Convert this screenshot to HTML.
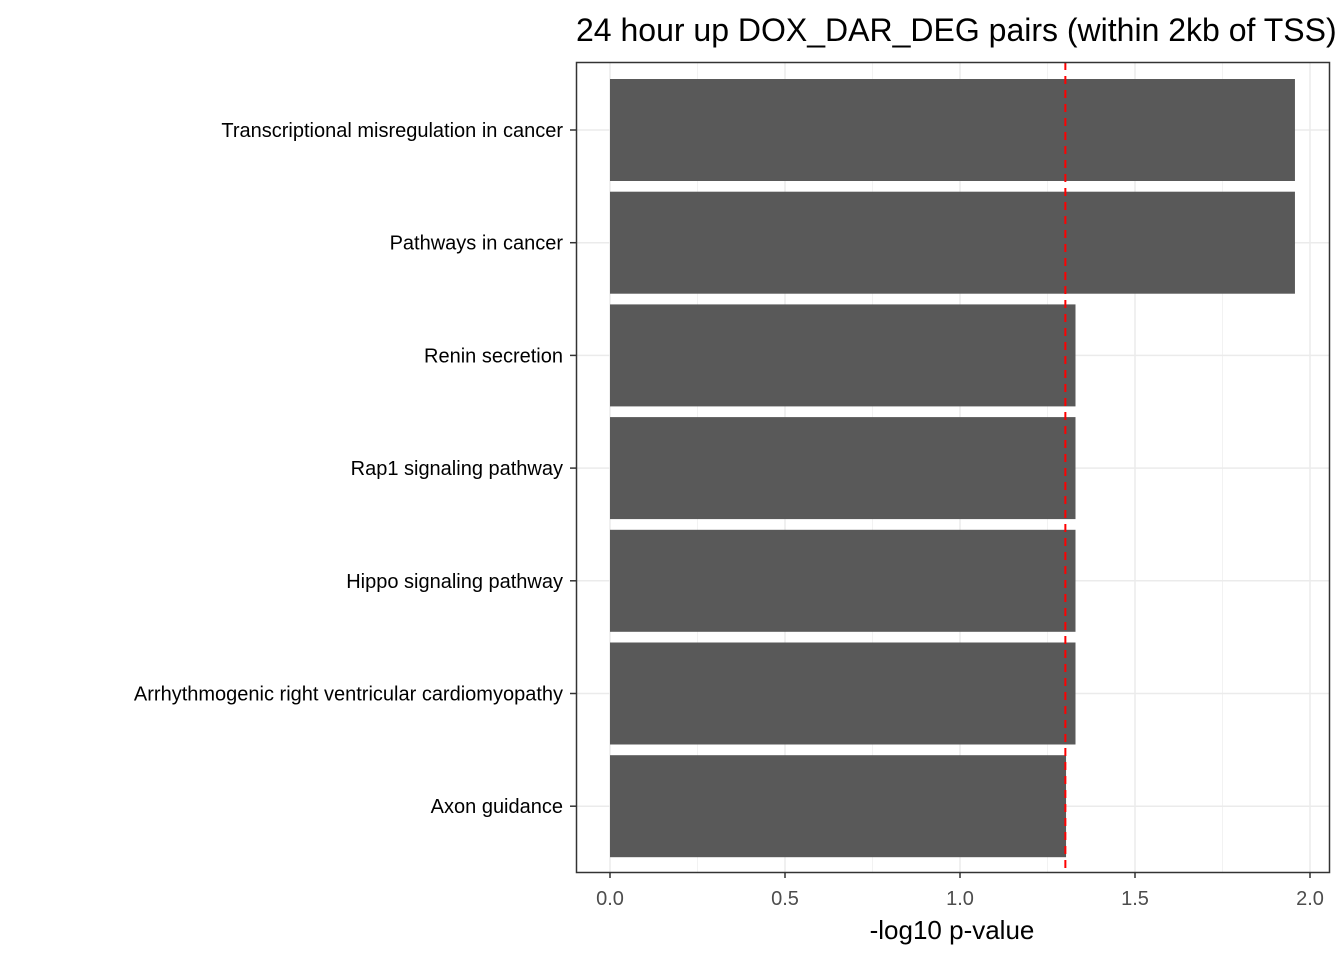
<!DOCTYPE html>
<html><head><meta charset="utf-8"><style>
html,body{margin:0;padding:0;background:#fff;}
svg{display:block;font-family:"Liberation Sans",Arial,sans-serif;}
</style></head><body>
<svg id="chart" width="1344" height="960" xmlns="http://www.w3.org/2000/svg">
<text x="576" y="41" font-size="32" fill="#000">24 hour up DOX_DAR_DEG pairs (within 2kb of TSS)</text>
<g id="grid"></g>
<g id="bars"></g>
<line id="thresh" stroke="#ff0000" stroke-width="2" stroke-dasharray="8,6"/>
<rect x="576.5" y="62.5" width="753" height="810" fill="none" stroke="#333" stroke-width="1.5"/>
<g id="axes"></g>
<text x="952" y="939" font-size="26" text-anchor="middle" fill="#000">-log10 p-value</text>
</svg>
<script>
const categories = ["Transcriptional misregulation in cancer","Pathways in cancer","Renin secretion","Rap1 signaling pathway","Hippo signaling pathway","Arrhythmogenic right ventricular cardiomyopathy","Axon guidance"];
const values = [1.957, 1.957, 1.33, 1.33, 1.33, 1.33, 1.303];
const xTicks = [0, 0.5, 1.0, 1.5, 2.0];
const xTickLabels = ["0.0","0.5","1.0","1.5","2.0"];
const threshold = 1.30103;

const NS = "http://www.w3.org/2000/svg";
const px0 = 610, pxPerUnit = 350, top0 = 62, bandH = 112.7, barH = 102;
const panelLeft = 576, panelRight = 1329, panelBottom = 872;
function xs(v){ return px0 + v * pxPerUnit; }
function yc(i){ return top0 + 17 + bandH * i + barH / 2; }
function mk(tag, attrs, parent){ const e = document.createElementNS(NS, tag); for (const k in attrs) e.setAttribute(k, attrs[k]); parent.appendChild(e); return e; }

const grid = document.getElementById('grid'), bars = document.getElementById('bars'), axes = document.getElementById('axes');
// minor gridlines
for (let i = 0; i < xTicks.length - 1; i++) {
  const g = mk('line', {x1: xs((xTicks[i]+xTicks[i+1])/2), x2: xs((xTicks[i]+xTicks[i+1])/2), y1: 62, y2: panelBottom, stroke: '#f2f2f2', 'stroke-width': 1}, grid);
  
  
}
xTicks.forEach((t, i) => {
  const g = mk('line', {x1: xs(t), x2: xs(t), y1: 62, y2: panelBottom, stroke: '#ebebeb', 'stroke-width': 1.5}, grid);
  
  
  const tk = mk('line', {x1: xs(t), x2: xs(t), y1: panelBottom, y2: panelBottom + 6, stroke: '#333', 'stroke-width': 1.5}, axes);
  
  
  const tl = mk('text', {x: xs(t), y: 905, 'font-size': 20, fill: '#4d4d4d', 'text-anchor': 'middle'}, axes);
  tl.textContent = xTickLabels[i];
  
  
});
categories.forEach((c, i) => {
  const y = yc(i);
  const g = mk('line', {x1: panelLeft, x2: panelRight, y1: y, y2: y, stroke: '#ebebeb', 'stroke-width': 1.5}, grid);
  
  
  const b = mk('rect', {x: xs(0), y: y - barH/2, width: xs(values[i]) - xs(0), height: barH, fill: '#595959'}, bars);
  
  
  const tk = mk('line', {x1: panelLeft - 6, x2: panelLeft, y1: y, y2: y, stroke: '#333', 'stroke-width': 1.5}, axes);
  
  
  const tl = mk('text', {x: 563, y: y + 7, 'font-size': 20, fill: '#000', 'text-anchor': 'end'}, axes);
  tl.textContent = c;
  
  
});
const th = document.getElementById('thresh');
th.setAttribute('x1', xs(threshold)); th.setAttribute('x2', xs(threshold));
th.setAttribute('y1', 62); th.setAttribute('y2', panelBottom);
</script>
</body></html>
